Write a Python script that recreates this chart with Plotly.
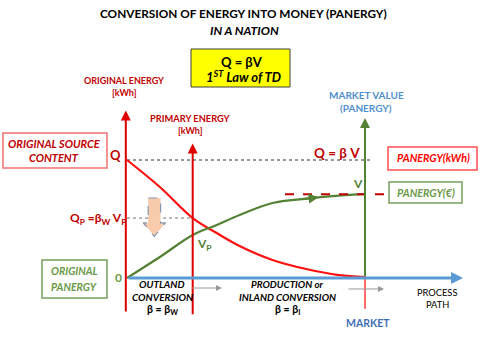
import plotly.graph_objects as go

# ---------------- data (conceptual units: origin = 0, market = 10, Q = 10) ----------------
path_x = [0, 1.38, 2.76, 3.77, 4.73, 6.11, 7.53, 8.91, 10]
original_energy = [10, 7.71, 5.08, 3.81, 2.71, 1.53, 0.76, 0.25, 0.08]
panergy = [0, 1.78, 3.64, 4.49, 5.34, 6.36, 6.72, 6.98, 7.1]

Q_level = 10
Qp_level = 5.08
V_level = 7.1
primary_x = 2.76
market_x = 10
axis_end_x = 14.12

# ---------------- layout helpers ----------------
W, H = 480, 338
X0_PX, X_UNIT = 127, 23.8
Y0_PX, Y_UNIT = 278, 11.8
x_range = [-X0_PX / X_UNIT, (W - X0_PX) / X_UNIT]
y_range = [(Y0_PX - H) / Y_UNIT, Y0_PX / Y_UNIT]

def px(x):
    return x / W

def py(y):
    return 1 - y / H

FONT = "Lato"
RED = "#e00000"
DRED = "#c00000"
GREEN = "#548235"
TGREEN = "#6a9a48"
BLUE = "#5b9bd5"

fig = go.Figure()

# dotted reference lines
fig.add_trace(go.Scatter(x=[0, 10.34], y=[Q_level, Q_level], mode="lines",
                         line=dict(color="#333333", width=1, dash="dot"), hoverinfo="skip"))
fig.add_trace(go.Scatter(x=[0, primary_x], y=[Qp_level, Qp_level], mode="lines",
                         line=dict(color="#777777", width=1, dash="dot"), hoverinfo="skip"))

# orange down arrow (between Q and Qp levels)
ax_c = 1.15
top = Qp_level + 1.7
sb = Qp_level - 0.4
tip = Qp_level - 1.55
hw, shw = 0.47, 0.26
fig.add_trace(go.Scatter(
    x=[ax_c - shw, ax_c + shw, ax_c + shw, ax_c + hw, ax_c, ax_c - hw, ax_c - shw, ax_c - shw],
    y=[top, top, sb, sb, tip, sb, sb, top],
    mode="lines", fill="toself", fillcolor="#f8cbad",
    line=dict(color="#8497b0", width=1.2, dash="dash"), hoverinfo="skip"))

# curves
fig.add_trace(go.Scatter(x=path_x, y=original_energy, mode="lines", line_shape="spline",
                         line=dict(color="#ff1010", width=2.2), hoverinfo="skip"))
fig.add_trace(go.Scatter(x=path_x, y=panergy, mode="lines", line_shape="spline",
                         line=dict(color=GREEN, width=2.2), hoverinfo="skip"))

# red dashed V level
fig.add_trace(go.Scatter(x=[6.64, 10.92], y=[V_level, V_level], mode="lines",
                         line=dict(color=DRED, width=2, dash="dash"), hoverinfo="skip"))

# market lower red segment
fig.add_trace(go.Scatter(x=[market_x, market_x], y=[0, -2.6], mode="lines",
                         line=dict(color="#ff6b6b", width=2), hoverinfo="skip"))

annotations = []

def arrow(x0, y0, x1, y1, color, width=2, head=2, size=1.0):
    annotations.append(dict(x=x1, y=y1, ax=x0, ay=y0, xref="x", yref="y", axref="x", ayref="y",
                            text="", showarrow=True, arrowhead=head, arrowsize=size,
                            arrowwidth=width, arrowcolor=color, standoff=0, startstandoff=0))

# axes
arrow(-0.05, -2.97, -0.05, 14.2, RED, 2, 2, 1.0)
arrow(primary_x, -3.2, primary_x, 11.4, RED, 2, 2, 1.0)
arrow(0, 0, axis_end_x, 0, BLUE, 3, 2, 0.8)
arrow(market_x, 0, market_x, 13.56, GREEN, 2, 2, 1.0)
# small direction arrows
arrow(2.65, -0.85, 3.99, -0.85, "#999999", 1, 2, 1.2)
arrow(9.24, -0.93, 10.8, -0.93, "#999999", 1, 2, 1.2)
# green curve arrow
arrow(7.4, 6.68, 8.05, 6.84, GREEN, 2, 2, 1.0)

def text(x, y, s, color="black", size=10, bold=True, italic=False, xanchor="center"):
    t = s
    if bold:
        t = "<b>" + t + "</b>"
    if italic:
        t = "<i>" + t + "</i>"
    annotations.append(dict(x=px(x), y=py(y), xref="paper", yref="paper", text=t,
                            showarrow=False, xanchor=xanchor, yanchor="middle",
                            font=dict(family=FONT, size=size, color=color)))

text(243, 14, "CONVERSION OF ENERGY INTO MONEY (PANERGY)", "black", 11.8)
text(244, 30, "IN A NATION", "black", 12.2, italic=True)
text(242, 62, "Q = βV", "black", 13)
text(243, 77, "1<sup>ST</sup> Law of TD", "black", 13, italic=True)

text(124, 80, "ORIGINAL ENERGY", DRED, 9)
text(124, 92, "[kWh]", DRED, 9)
text(190, 118, "PRIMARY ENERGY", DRED, 9.3)
text(190, 130, "[kWh]", DRED, 9)
text(366, 95, "MARKET VALUE", "#4f8fd0", 10)
text(366, 108, "(PANERGY)", "#4f8fd0", 10)

text(54, 143, "ORIGINAL SOURCE", DRED, 11, italic=True)
text(54, 158, "CONTENT", DRED, 11, italic=True)
text(115, 155, "Q", DRED, 13)
text(128, 218, "Q<sub>P</sub> =β<sub>W</sub> V<sub>P</sub>", DRED, 12, xanchor="right")
text(204, 244, "V<sub>P</sub>", GREEN, 12)
text(118, 277, "0", TGREEN, 12)
text(74, 271, "ORIGINAL", TGREEN, 10.5, italic=True)
text(74, 287, "PANERGY", TGREEN, 10.5, italic=True)

text(337, 153, "Q = β V", DRED, 13.5)
text(358, 183, "V", GREEN, 12)
text(433, 158, "PANERGY(kWh)", "#ff0000", 10.7, italic=True)
text(426, 192, "PANERGY(€)", TGREEN, 10.7, italic=True)

text(162, 284, "OUTLAND", "black", 10, italic=True)
text(162, 297, "CONVERSION", "black", 10, italic=True)
text(162, 310, "β = β<sub>W</sub>", "black", 10.5)
text(287, 284, "PRODUCTION or", "black", 9.8, italic=True)
text(287, 297, "INLAND CONVERSION", "black", 9.8, italic=True)
text(287, 310, "β = β<sub>I</sub>", "black", 10.5)
text(437, 292, "PROCESS", "black", 9.3, bold=False)
text(437, 304, "PATH", "black", 9.3, bold=False)
text(368, 323, "MARKET", "#3f6fb8", 10.5)

shapes = [
    dict(type="rect", xref="paper", yref="paper", x0=px(191), x1=px(290), y0=py(49), y1=py(87),
         fillcolor="#ffff00", line=dict(color="#404040", width=1), layer="below"),
    dict(type="rect", xref="paper", yref="paper", x0=px(3), x1=px(107), y0=py(133), y1=py(168),
         line=dict(color="#f07070", width=1.5)),
    dict(type="rect", xref="paper", yref="paper", x0=px(42), x1=px(107), y0=py(260), y1=py(298),
         line=dict(color="#76a05a", width=1.5)),
    dict(type="rect", xref="paper", yref="paper", x0=px(388), x1=px(477), y0=py(147), y1=py(170),
         line=dict(color="#ff5050", width=1.5)),
    dict(type="rect", xref="paper", yref="paper", x0=px(389), x1=px(462), y0=py(182), y1=py(203),
         line=dict(color="#76a05a", width=1.5)),
]

fig.update_layout(
    width=W, height=H, margin=dict(l=0, r=0, t=0, b=0),
    paper_bgcolor="white", plot_bgcolor="white", showlegend=False,
    xaxis=dict(range=x_range, visible=False, fixedrange=True),
    yaxis=dict(range=y_range, visible=False, fixedrange=True),
    annotations=annotations, shapes=shapes,
)

fig.write_html("out.html", config={"displayModeBar": False},
               post_script="document.body.style.margin='0';document.body.style.overflow='hidden';")
